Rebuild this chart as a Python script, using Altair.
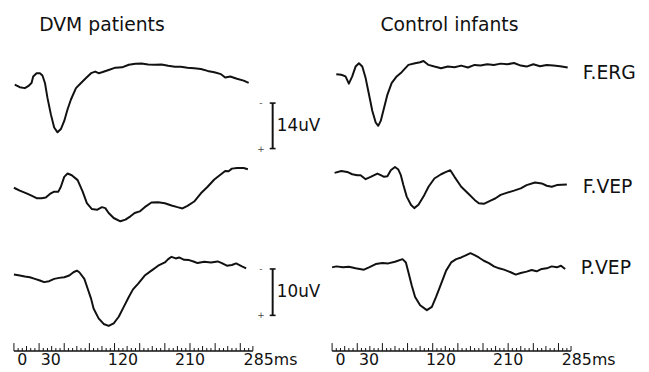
import altair as alt
import pandas as pd

# ---------------- data: (time in ms, amplitude in uV, upward deflection positive) -------------
dvm_f_erg = [(1, -2.5), (7, -3.3), (13, -3.6), (17, -3.0), (21, -2.0), (23, 0.0), (27, 1.0), (31, 1.0),
             (34, 0.3), (37, -2.0), (40, -6.6), (44, -11.6), (48, -15.7), (52, -17.2), (56, -16.2),
             (60, -13.7), (64, -10.1), (68, -7.1), (74, -3.6), (80, -2.0), (86, -0.5), (92, 1.0),
             (97, 1.5), (101, 1.0), (105, 1.3), (113, 2.0), (121, 2.7), (129, 2.8), (137, 3.6),
             (145, 3.9), (152, 4.0), (160, 3.7), (168, 3.6), (176, 3.7), (184, 3.3), (192, 3.0),
             (199, 3.0), (207, 2.7), (215, 2.5), (223, 2.3), (231, 1.7), (239, 1.3), (247, 0.7),
             (252, -0.3), (258, 0.0), (266, -0.7), (274, -1.3), (280, -2.0)]

dvm_f_vep = [(0, 0.49), (7, -0.14), (15, -0.71), (21, -1.21), (27, -1.77), (33, -1.77), (38, -1.63),
             (44, -0.71), (48, -0.35), (53, -0.35), (56, 0.71), (60, 2.84), (64, 3.55), (69, 3.19),
             (76, 2.13), (82, -0.35), (87, -2.84), (93, -4.11), (99, -4.26), (105, -3.69), (109, -3.9),
             (113, -4.96), (119, -6.03), (127, -6.74), (133, -6.38), (139, -5.67), (144, -4.96),
             (150, -4.61), (156, -3.69), (164, -2.7), (172, -2.62), (180, -2.84), (188, -3.33),
             (195, -3.69), (201, -3.97), (207, -3.4), (215, -2.48), (223, -0.71), (231, 0.71),
             (239, 2.27), (247, 3.4), (252, 4.11), (256, 4.04), (260, 4.61), (266, 4.75), (274, 4.75),
             (279, 4.47)]

dvm_p_vep = [(0, -0.78), (7, -0.99), (13, -1.21), (19, -1.35), (25, -1.70), (31, -2.06), (36, -2.41),
             (42, -2.2), (48, -1.7), (54, -1.49), (60, -1.35), (66, -0.99), (71, -0.28), (75, 0.07),
             (78, -0.28), (84, -1.7), (88, -3.83), (92, -5.96), (95, -8.09), (101, -10.21),
             (107, -11.42), (113, -11.84), (119, -11.28), (125, -9.86), (131, -7.73), (137, -5.6),
             (142, -3.97), (148, -2.77), (156, -0.99), (164, 0.07), (172, 1.13), (180, 1.84),
             (184, 2.55), (188, 3.05), (193, 2.7), (197, 2.91), (203, 2.41), (209, 2.34), (215, 1.99),
             (219, 1.70), (227, 1.99), (235, 1.84), (243, 2.06), (248, 1.70), (254, 1.13), (260, 1.28),
             (265, 1.63), (272, 0.99), (277, 0.57)]

ctl_f_erg = [(5, 0.7), (11, 0.51), (16, 0.0), (20, -2.23), (24, 0.0), (28, 3.04), (32, 4.05), (36, 3.04),
             (40, -0.51), (44, -5.57), (48, -10.64), (52, -14.18), (55, -15.2), (58, -13.68),
             (62, -9.63), (66, -5.57), (71, -2.03), (77, 0.0), (83, 1.32), (91, 3.55), (99, 4.05),
             (105, 4.36), (109, 4.76), (115, 3.55), (122, 3.04), (130, 2.53), (138, 3.04), (146, 2.84),
             (154, 3.34), (162, 2.74), (170, 3.55), (177, 3.34), (185, 3.75), (193, 3.55), (201, 3.95),
             (209, 3.75), (217, 4.15), (225, 3.34), (232, 3.04), (240, 3.75), (248, 3.14), (256, 3.55),
             (264, 3.34), (272, 3.14), (281, 2.74)]

ctl_f_vep = [(3, 3.69), (11, 4.11), (18, 3.9), (24, 3.4), (30, 3.19), (34, 3.19), (40, 2.34), (46, 2.84),
             (54, 3.55), (58, 3.19), (62, 2.84), (66, 2.98), (70, 4.26), (75, 4.96), (79, 4.4),
             (82, 3.19), (85, 1.06), (89, -1.42), (94, -3.19), (98, -3.9), (103, -3.19), (109, -1.42),
             (115, 0.71), (122, 2.48), (130, 3.4), (136, 3.9), (141, 4.26), (146, 2.84), (154, 0.71),
             (162, -0.71), (170, -2.13), (175, -2.84), (181, -2.98), (189, -2.27), (195, -1.77),
             (201, -1.06), (209, -0.57), (217, -0.14), (225, 0.35), (232, 1.06), (242, 1.63),
             (250, 1.42), (256, 0.92), (262, 0.71), (268, 1.06), (274, 1.13), (280, 1.21)]

ctl_p_vep = [(0, 0.78), (5, 0.99), (13, 0.78), (20, 0.92), (28, 0.57), (38, 0.28), (44, 0.78), (52, 1.49),
             (60, 1.70), (67, 1.63), (75, 1.99), (84, 2.55), (88, 1.84), (91, -0.28), (95, -3.12),
             (99, -5.6), (105, -7.38), (113, -8.44), (119, -7.73), (124, -5.6), (130, -2.77),
             (136, 0.07), (142, 1.84), (148, 2.55), (154, 2.91), (160, 3.4), (165, 3.83), (170, 3.4),
             (175, 2.91), (181, 2.2), (187, 1.70), (193, 0.99), (199, 0.57), (205, 0.28), (213, -0.28),
             (219, -0.78), (225, -0.43), (232, -0.14), (238, 0.21), (244, -0.07), (250, 0.43),
             (256, 0.57), (262, 0.99), (268, 0.78), (273, 1.13), (278, 0.43)]

panels = ["DVM patients", "Control infants"]
rows_names = ["F.ERG", "F.VEP", "P.VEP"]
tick_labels = ["0", "30", "120", "210", "285ms"]
tick_label_pos = [10, 44, 130, 210, 306]
scale_bars = [("F.ERG", 14, "14uV"), ("P.VEP", 10, "10uV")]

# ---------------- layout (not data) ----------------
INK = "#111111"
FONT = "DejaVu Sans"
PX_PER_MS = 0.849
W, H = 641, 364
UNIT_PX = 4.7
X_MIN = -7.07
X_MAX = X_MIN + W / PX_PER_MS
Y_MAX = H / UNIT_PX

panel_offset = {"DVM patients": 0.0, "Control infants": 379.5}
title_pos = {"DVM patients": 105, "Control infants": 140}
row_base = {"F.ERG": 63.19, "F.VEP": 38.72, "P.VEP": 21.28}
row_gain = {"F.ERG": 0.70, "F.VEP": 1.0, "P.VEP": 1.0}
AXIS_Y = 4.04
LABEL_Y = 2.0

traces = {
    ("DVM patients", "F.ERG"): dvm_f_erg,
    ("DVM patients", "F.VEP"): dvm_f_vep,
    ("DVM patients", "P.VEP"): dvm_p_vep,
    ("Control infants", "F.ERG"): ctl_f_erg,
    ("Control infants", "F.VEP"): ctl_f_vep,
    ("Control infants", "P.VEP"): ctl_p_vep,
}

recs = []
for (panel, row), pts in traces.items():
    for t, v in pts:
        recs.append({"trace": f"{panel} {row}", "t": t,
                     "x": t + panel_offset[panel],
                     "y": row_base[row] + v * row_gain[row]})
df = pd.DataFrame(recs)

xs = alt.Scale(domain=[X_MIN, X_MAX], nice=False, zero=False)
ys = alt.Scale(domain=[0, Y_MAX], nice=False, zero=False)


def X(f="x"):
    return alt.X(f"{f}:Q", scale=xs, axis=None)


def Y(f="y"):
    return alt.Y(f"{f}:Q", scale=ys, axis=None)


lines = alt.Chart(df).mark_line(color=INK, strokeWidth=2.0, strokeJoin="round").encode(
    x=X(), y=Y(), detail="trace:N", order="t:Q")

# time axes
axis_df = pd.DataFrame([{"x": panel_offset[p], "x2": panel_offset[p] + 285, "y": AXIS_Y} for p in panels])
axis_line = alt.Chart(axis_df).mark_rule(color=INK, strokeWidth=1.4).encode(
    x=X(), x2="x2:Q", y=Y())

tick_recs = []
for p in panels:
    for t in range(0, 290, 5):
        h = 8 if t % 30 == 0 else (5 if t % 15 == 0 else 3)
        tick_recs.append({"x": panel_offset[p] + t, "y": AXIS_Y, "y2": AXIS_Y + h / UNIT_PX})
ticks = alt.Chart(pd.DataFrame(tick_recs)).mark_rule(color=INK, strokeWidth=1).encode(
    x=X(), y=Y(), y2="y2:Q")

lab_recs = []
for p in panels:
    for lab, pos in zip(tick_labels, tick_label_pos):
        lab_recs.append({"x": panel_offset[p] + pos, "y": LABEL_Y, "text": lab})
tick_text = alt.Chart(pd.DataFrame(lab_recs)).mark_text(
    font=FONT, fontSize=16, color=INK, align="center", baseline="middle").encode(
    x=X(), y=Y(), text="text:N")

# panel titles
title_df = pd.DataFrame([
    {"x": panel_offset[p] + title_pos[p], "y": 74.26, "text": p} for p in panels
])
titles = alt.Chart(title_df).mark_text(
    font=FONT, fontSize=19, color=INK, align="center", baseline="middle").encode(
    x=X(), y=Y(), text="text:N")

# row labels at right
row_lab_df = pd.DataFrame([
    {"x": 678.4, "y": 63.83, "text": "F.ERG"},
    {"x": 678.4, "y": 39.36, "text": "F.VEP"},
    {"x": 676.0, "y": 21.81, "text": "P.VEP"},
])
row_labels = alt.Chart(row_lab_df).mark_text(
    font=FONT, fontSize=19, color=INK, align="left", baseline="middle").encode(
    x=X(), y=Y(), text="text:N")

# calibration bars
bar_top_uv = {"F.ERG": -8.2, "P.VEP": 0.43}
bar_recs, serif_recs, bar_lab_recs, sign_recs = [], [], [], []
BAR_T = 308.6
for row, amp, lab in scale_bars:
    top = row_base[row] + bar_top_uv[row] * row_gain[row]
    bot = row_base[row] + (bar_top_uv[row] - amp) * row_gain[row]
    bar_recs.append({"x": BAR_T, "y": top, "y2": bot})
    serif_recs += [{"x": BAR_T - 3.5, "x2": BAR_T + 3.5, "y": top},
                   {"x": BAR_T - 3.5, "x2": BAR_T + 3.5, "y": bot}]
    bar_lab_recs.append({"x": BAR_T + 5, "y": (top + bot) / 2, "text": lab})
    sign_recs += [{"x": BAR_T - 14, "y": top, "text": "-"},
                  {"x": BAR_T - 14, "y": bot, "text": "+"}]

bars = alt.Chart(pd.DataFrame(bar_recs)).mark_rule(color=INK, strokeWidth=2.0).encode(
    x=X(), y=Y(), y2="y2:Q")
serifs = alt.Chart(pd.DataFrame(serif_recs)).mark_rule(color=INK, strokeWidth=1.6).encode(
    x=X(), x2="x2:Q", y=Y())
bar_labels = alt.Chart(pd.DataFrame(bar_lab_recs)).mark_text(
    font=FONT, fontSize=17, color=INK, align="left", baseline="middle").encode(
    x=X(), y=Y(), text="text:N")
signs = alt.Chart(pd.DataFrame(sign_recs)).mark_text(
    font=FONT, fontSize=9, color="#444444", align="center", baseline="middle").encode(
    x=X(), y=Y(), text="text:N")

chart = alt.layer(
    lines, axis_line, ticks, tick_text, titles, row_labels, bars, serifs, bar_labels, signs
).properties(
    width=W, height=H, padding=0, background="white",
    autosize=alt.AutoSizeParams(type="none"),
).configure_view(stroke=None)

chart.save("out.html", embed_options={"renderer": "svg", "actions": False})
